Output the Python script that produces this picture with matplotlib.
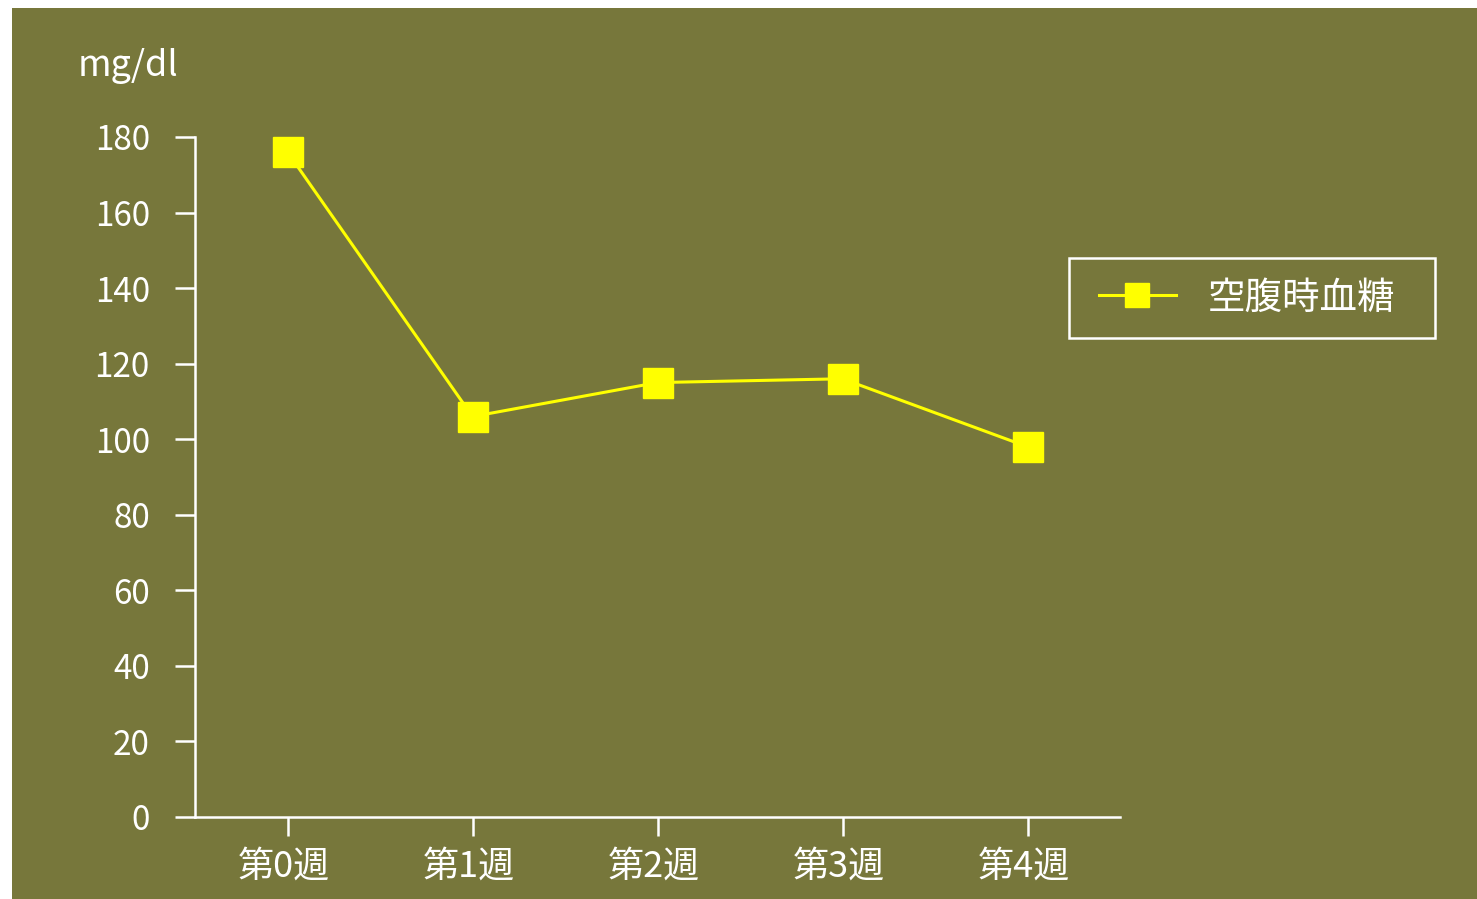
import matplotlib
matplotlib.use("Agg")
import matplotlib.pyplot as plt
from matplotlib.patches import Rectangle
from matplotlib.transforms import ScaledTranslation

plt.rcParams['font.family'] = ['Noto Sans CJK JP', 'DejaVu Sans']

weeks = ["第0週", "第1週", "第2週", "第3週", "第4週"]
glucose = [176, 106, 115, 116, 98]
series_name = "空腹時血糖"
unit_label = "mg/dl"
y_ticks = [0, 20, 40, 60, 80, 100, 120, 140, 160, 180]

W, H = 1477, 899
bg = "#77773b"
fg = "white"
yellow = "#ffff00"

fig = plt.figure(figsize=(W / 100, H / 100), dpi=100, facecolor="white")
fig.patches.append(Rectangle((12 / W, 0), 1 - 12 / W, (H - 8) / H,
                             transform=fig.transFigure, facecolor=bg,
                             edgecolor="none", zorder=-10))

ax = fig.add_axes([195 / W, 1 - 817 / H, (1120 - 195) / W, (817 - 137) / H])
ax.set_facecolor("none")

x = list(range(len(weeks)))
ax.plot(x, glucose, color=yellow, lw=2.2, marker="s", markersize=22,
        markerfacecolor=yellow, markeredgecolor=yellow, label=series_name,
        clip_on=False)

ax.set_xlim(-0.5, len(weeks) - 0.5)
ax.set_ylim(0, 180)
ax.set_yticks(y_ticks)
ax.set_xticks(x)
ax.set_xticklabels(weeks)

for s in ["top", "right"]:
    ax.spines[s].set_visible(False)
for s in ["left", "bottom"]:
    ax.spines[s].set_color(fg)
    ax.spines[s].set_linewidth(1.8)

ax.tick_params(axis="y", colors=fg, length=14.5, width=1.8, pad=18,
               labelsize=24)
ax.tick_params(axis="x", colors=fg, length=14, width=1.8, pad=9,
               labelsize=26)
shift = ScaledTranslation(-4 / 100, 0, fig.dpi_scale_trans)
for lbl in ax.get_xticklabels():
    lbl.set_transform(lbl.get_transform() + shift)

fig.text(78 / W, 1 - 66 / H, unit_label, color=fg, fontsize=26,
         ha="left", va="center")

# legend: frame drawn as a figure rectangle, entries placed inside it
fig.patches.append(Rectangle((1069 / W, 1 - 338 / H), (1435 - 1069) / W,
                             (338 - 258) / H, transform=fig.transFigure,
                             facecolor="none", edgecolor=fg, linewidth=1.8,
                             zorder=5))
leg = ax.legend(loc="center left", bbox_to_anchor=(1099 / W, 1 - 298 / H),
                bbox_transform=fig.transFigure, frameon=False,
                fontsize=27, markerscale=0.8, handlelength=2.05,
                handletextpad=0.85, borderpad=0, borderaxespad=0)
for t in leg.get_texts():
    t.set_color(fg)

fig.savefig("out.png", dpi=100, facecolor="white")
